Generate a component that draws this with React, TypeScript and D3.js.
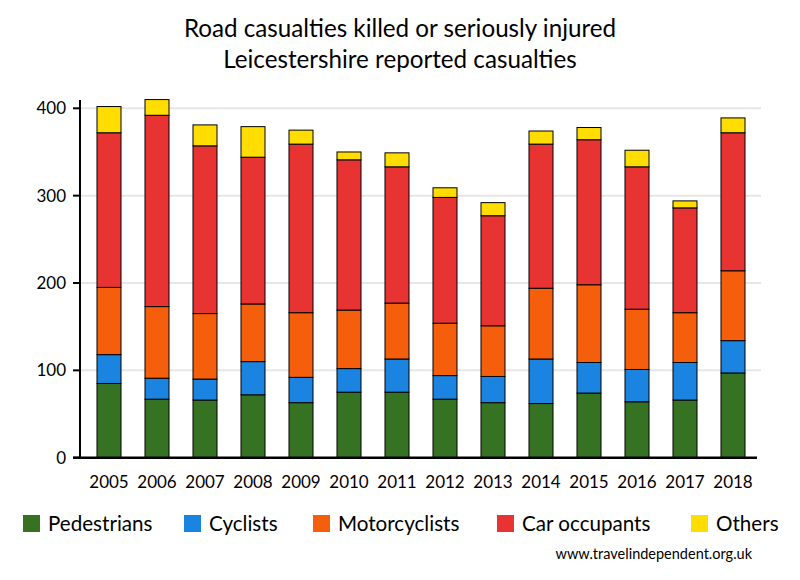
import React from "react";
import * as d3 from "d3";

const years = ["2005","2006","2007","2008","2009","2010","2011","2012","2013","2014","2015","2016","2017","2018"];
const pedestrians = [85, 67, 66, 72, 63, 75, 75, 67, 63, 62, 74, 64, 66, 97];
const cyclists = [33, 24, 24, 38, 29, 27, 38, 27, 30, 51, 35, 37, 43, 37];
const motorcyclists = [77, 82, 75, 66, 74, 67, 64, 60, 58, 81, 89, 69, 57, 80];
const carOccupants = [177, 219, 192, 168, 193, 172, 156, 144, 126, 165, 166, 163, 120, 158];
const others = [30, 18, 24, 35, 16, 9, 16, 11, 15, 15, 14, 19, 8, 17];
const yTicks = [0, 100, 200, 300, 400];
const seriesNames = ["Pedestrians", "Cyclists", "Motorcyclists", "Car occupants", "Others"];
const seriesColors = ["#357322", "#1b84e0", "#f55f0b", "#e73433", "#ffdd00"];
const titleLines = ["Road casualties killed or seriously injured", "Leicestershire reported casualties"];
const credit = "www.travelindependent.org.uk";

const FONT = "Lato, 'Open Sans', sans-serif";

export default function App() {
  const W = 800, H = 580;
  const seriesData = [pedestrians, cyclists, motorcyclists, carOccupants, others];
  const rows = years.map((y, i) => {
    const r: any = { year: y };
    seriesNames.forEach((n, k) => (r[n] = seriesData[k][i]));
    return r;
  });
  const stacked = d3.stack().keys(seriesNames)(rows);

  const x = d3.scaleBand().domain(years).range([73, 769]).paddingInner(0.5).paddingOuter(0.5);
  const y = d3.scaleLinear().domain([0, 400]).range([457.7, 108.3]);

  const axisLeft = 80;
  const axisRight = 757;
  const gridRight = 761;

  const legendX = [23, 184, 313, 497, 691];

  return (
    <svg width={W} height={H} style={{ position: "absolute", left: 0, top: 0, background: "#fff" }} fontFamily={FONT}>
      <rect x={0} y={0} width={W} height={H} fill="#fff" />
      {titleLines.map((t, i) => (
        <text key={i} x={400} y={37 + i * 31} textAnchor="middle" fontSize={24.2} fill="#000">{t}</text>
      ))}
      {yTicks.filter((t) => t > 0).map((t) => (
        <line key={"g" + t} x1={axisLeft} x2={gridRight} y1={y(t)} y2={y(t)} stroke="#e6e6e6" strokeWidth={2} />
      ))}
      {stacked.map((s, k) => (
        <g key={s.key}>
          {s.map((d: any, i: number) => (
            <rect
              key={i}
              x={(x(years[i]) as number)}
              width={x.bandwidth()}
              y={y(d[1])}
              height={y(d[0]) - y(d[1])}
              fill={seriesColors[k]}
              stroke="#000"
              strokeWidth={1}
            />
          ))}
        </g>
      ))}
      <line x1={axisLeft} x2={axisLeft} y1={100} y2={459} stroke="#000" strokeWidth={2} />
      <line x1={73} x2={axisRight} y1={y(0)} y2={y(0)} stroke="#000" strokeWidth={2.5} />
      {yTicks.map((t) => (
        <g key={"t" + t}>
          <line x1={73} x2={axisLeft} y1={y(t)} y2={y(t)} stroke="#000" strokeWidth={2} />
          <text x={66} y={y(t) + 6} textAnchor="end" fontSize={17} fill="#000">{t}</text>
        </g>
      ))}
      {years.map((yr) => (
        <text key={yr} x={(x(yr) as number) + x.bandwidth() / 2} y={488} textAnchor="middle" fontSize={17} fill="#000">{yr}</text>
      ))}
      {seriesNames.map((n, k) => (
        <g key={n}>
          <rect x={legendX[k]} y={515} width={17} height={17} fill={seriesColors[k]} />
          <text x={legendX[k] + 25} y={531} fontSize={20.6} fill="#000">{n}</text>
        </g>
      ))}
      <text x={752} y={559} textAnchor="end" fontSize={14.5} fill="#000">{credit}</text>
    </svg>
  );
}
